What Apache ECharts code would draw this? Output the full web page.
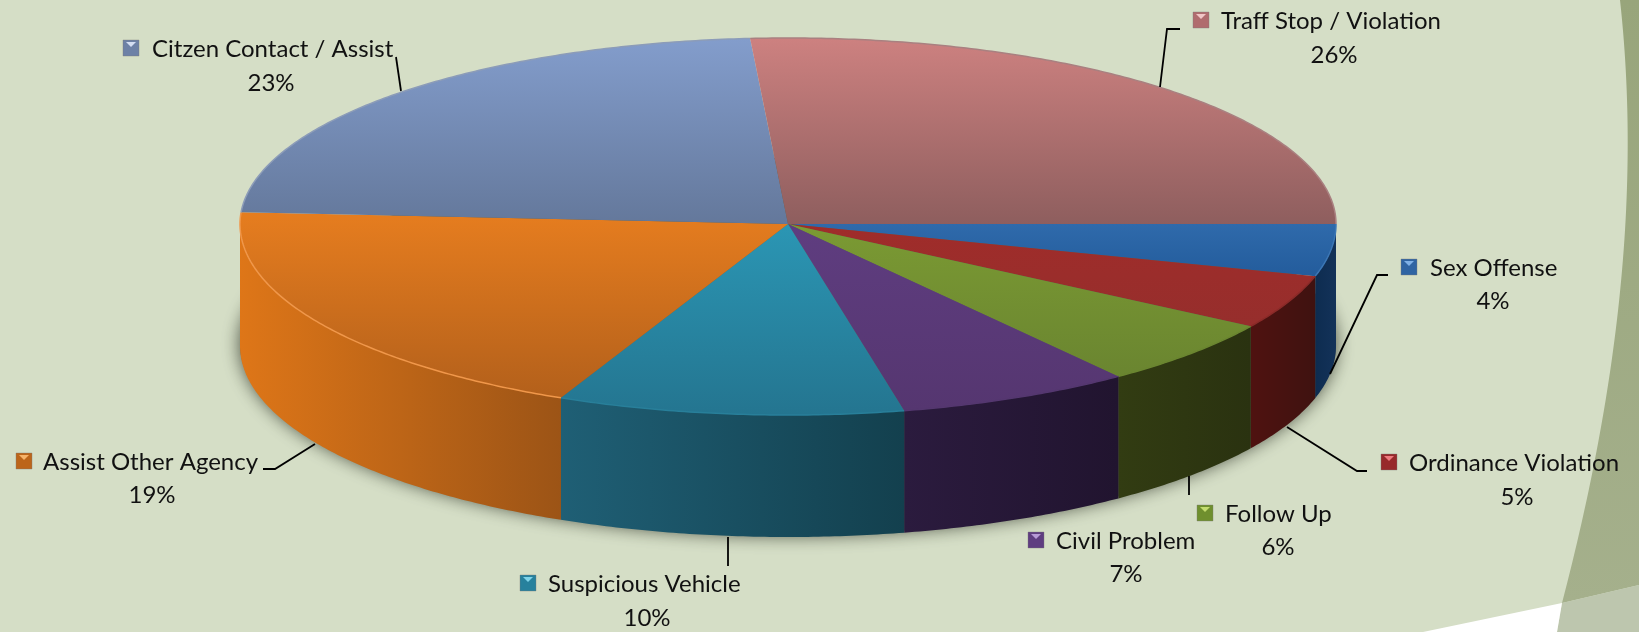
<!DOCTYPE html>
<html><head><meta charset="utf-8">
<style>html,body{margin:0;padding:0;background:#d5dec6}#c{width:1639px;height:632px}</style>
<script src="https://cdn.jsdelivr.net/npm/echarts@6/dist/echarts.min.js"></script>
</head><body><div id="c"></div>
<script>
// ---- data ----
var categories = ['Sex Offense','Ordinance Violation','Follow Up','Civil Problem','Suspicious Vehicle','Assist Other Agency','Citzen Contact / Assist','Traff Stop / Violation'];
var percentages = [4.4,4.6,5.7,6.9,10.2,19.2,22.9,26.1];

// ---- styles ----
var topColors = [['#2f6aab','#235c9c'],['#a02c2a','#962e2c'],['#7b9a33','#6a8530'],['#5f3d80','#553670'],['#2b96b4','#247590'],['#e67d1f','#b3601b'],['#839dcc','#64789b'],['#cd8180','#8e5e5e']];
var wallColors = [['#0e2c50','#133259'],['#4f1210','#3f1210'],['#323c12','#2a3210'],['#2b1b3e','#21142f'],['#1f5f75','#13404e'],['#de7618','#9c5416'],['#333','#333'],['#333','#333']];
var markerColors = [['#7fb0e6','#2f64a3'],['#ee7a7e','#97292b'],['#c3dc6e','#6f8f2e'],['#b79ad6','#5f3d80'],['#7fd4ea','#27819d'],['#f6b36a','#bc651a'],['#d4def2','#6d81a6'],['#f0c6c6','#b06c6e']];
var rimColors = ['#3b76b5','#8a2a28','#6a8530','#54376f','#287f9a','#f0974a','#8c9cb8','#a98080'];

// ---- layout ----
var pie = {cx:788, cy:224, rx:548, ryBack:186, ryFront:191, depth:122};
var labelLayout = [ // marker left, name left, name y, percent centre x, percent y
  [1401,1430,268,1493,301],[1381,1409,463,1517,497],[1197,1225,514,1278,547],[1028,1056,541,1126,574],
  [520,548,584,647,618],[16,43,462,152,495],[123,152,49,271,83],[1193,1221,21,1334,55]
];
var leaderLines = [
  [[1330,374],[1377,275],[1388,275]],[[1287,427],[1357,471],[1367,471]],[[1189,476],[1189,495]],null,
  [[728,537],[728,566]],[[315,444],[275,469],[263,469]],[[396,57],[401,91]],[[1160,87],[1167,29],[1180,29]]
];
var fontFamily = 'Lato';
var fontSize = 24;

var total = percentages.reduce(function(a,b){return a+b;},0);
function pt(t,dz){
  var s=Math.sin(t);
  return [pie.cx+pie.rx*Math.cos(t), pie.cy+(s>0?pie.ryFront:pie.ryBack)*s+(dz||0)];
}
function arc(a,b,dz){
  var n=Math.max(2,Math.ceil((b-a)/0.01)),out=[];
  for(var i=0;i<=n;i++) out.push(pt(a+(b-a)*i/n,dz));
  return out;
}
function startAngle(i){
  var c=0; for(var k=0;k<i;k++) c+=percentages[k];
  return c/total*Math.PI*2;
}
function lg(x0,y0,x1,y1,c){
  return new echarts.graphic.LinearGradient(x0,y0,x1,y1,[{offset:0,color:c[0]},{offset:1,color:c[1]}]);
}
function renderSlice(params,api){
  var i=api.value(0), v=api.value(1);
  var a=startAngle(i), b=a+v/total*Math.PI*2;
  var kids=[];
  // front wall
  var wa=Math.max(a,0), wb=Math.min(b,Math.PI);
  if(wb>wa){
    var up=arc(wa,wb,0), low=arc(wa,wb,pie.depth).reverse();
    kids.push({type:'polygon',shape:{points:up.concat(low)},style:{fill:lg(0,0,1,0,wallColors[i])}});
  }
  // top face
  var outer=arc(a,b,0);
  kids.push({type:'polygon',shape:{points:[[pie.cx,pie.cy]].concat(outer)},style:{fill:lg(0,0,0,1,topColors[i])}});
  kids.push({type:'polyline',shape:{points:outer},style:{fill:null,stroke:rimColors[i],lineWidth:1.5}});
  // leader
  if(leaderLines[i]) kids.push({type:'polyline',shape:{points:leaderLines[i]},style:{fill:null,stroke:'#000',lineWidth:1.8}});
  // label
  var L=labelLayout[i], mk=markerColors[i];
  kids.push({type:'rect',shape:{x:L[0],y:L[2]-9,width:16,height:16},style:{fill:mk[1],stroke:'rgba(120,120,120,.55)',lineWidth:.7}});
  kids.push({type:'polygon',shape:{points:[[L[0]+3,L[2]-7],[L[0]+13,L[2]-7],[L[0]+8,L[2]-2]]},style:{fill:mk[0]}});
  var font={fontFamily:fontFamily,fontSize:fontSize,fill:'#111'};
  kids.push({type:'text',style:Object.assign({x:L[1],y:L[2],text:categories[i],textAlign:'left',textVerticalAlign:'middle'},font)});
  kids.push({type:'text',style:Object.assign({x:L[3],y:L[4],text:Math.round(v/total*100)+'%',textAlign:'center',textVerticalAlign:'middle'},font)});
  return {type:'group',children:kids};
}
function renderShadow(){
  return {type:'polygon',shape:{points:arc(0,Math.PI*2,pie.depth-2)},
    style:{fill:'#5a6050',shadowBlur:18,shadowColor:'rgba(20,25,15,.75)',shadowOffsetX:0,shadowOffsetY:0}};
}
function curveEdge(){
  var P=[[1620,0],[1642,200],[1615,400],[1562,603]],out=[];
  for(var k=0;k<=60;k++){
    var t=k/60,u=1-t;
    out.push([u*u*u*P[0][0]+3*u*u*t*P[1][0]+3*u*t*t*P[2][0]+t*t*t*P[3][0],
              u*u*u*P[0][1]+3*u*u*t*P[1][1]+3*u*t*t*P[2][1]+t*t*t*P[3][1]]);
  }
  return out.concat([[1639,585],[1639,0]]);
}
var chart=echarts.init(document.getElementById('c'),null,{renderer:'canvas'});
var backdrop=[
  {type:'rect',z:-5,shape:{x:0,y:0,width:1639,height:632},style:{fill:'#d5dec6'}},
  {type:'polygon',z:-4,shape:{points:curveEdge()},style:{fill:lg(0,0,0,1,['#98a57b','#a5b08c'])}},
  {type:'polygon',z:-3,shape:{points:[[1562,603],[1639,585],[1639,632],[1557,632]]},style:{fill:'#bdc6ae'}},
  {type:'polygon',z:-3,shape:{points:[[1423,632],[1562,603],[1557,632]]},style:{fill:'#ffffff'}}
];
chart.setOption({
  animation:false,
  backgroundColor:'#d5dec6',
  graphic:{elements:backdrop},
  series:[
    {type:'custom',coordinateSystem:'none',silent:true,z:1,renderItem:renderShadow,data:[[0]]},
    {type:'custom',coordinateSystem:'none',silent:true,z:2,renderItem:renderSlice,
     data:percentages.map(function(p,i){return [i,p];})}
  ]
});
</script></body></html>
